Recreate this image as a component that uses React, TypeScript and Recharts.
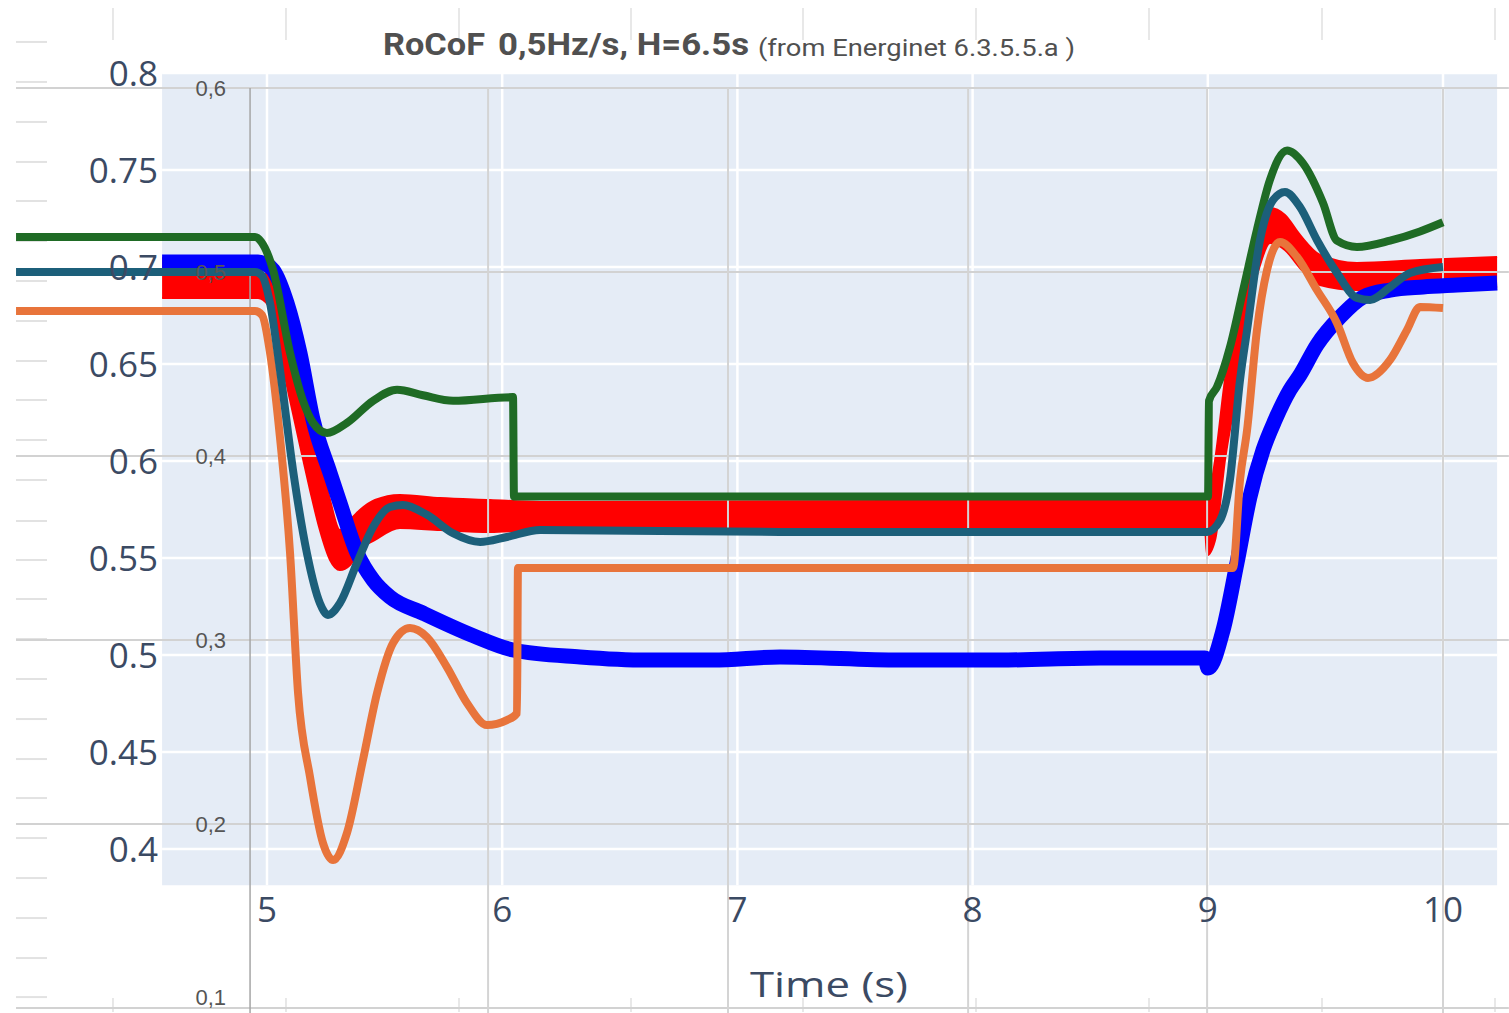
import {
  ComposedChart,
  XAxis,
  YAxis,
  Line,
  Area,
  ReferenceArea,
  ReferenceLine,
} from "recharts";

const W = 1509;
const H = 1013;

// plotly (measured) axes
const timeTicks = [5, 6, 7, 8, 9, 10];
const powerTicks = [0.4, 0.45, 0.5, 0.55, 0.6, 0.65, 0.7, 0.75, 0.8];
// energinet reference picture axes (its time grid drawn on the same time scale)
const refTicks = [0.1, 0.2, 0.3, 0.4, 0.5, 0.6];
const refGridTimes = [4.928, 5.94, 6.96, 7.981, 8.997, 10.0];

// measured active power, red band (fast oscillation min / max)
const measuredRed = [
  { t: 4.554, band: [0.684, 0.7046] },
  { t: 4.962, band: [0.684, 0.7046] },
  { t: 5.004, band: [0.6804, 0.7026] },
  { t: 5.047, band: [0.6598, 0.6933] },
  { t: 5.098, band: [0.6314, 0.6675] },
  { t: 5.14, band: [0.6082, 0.6469] },
  { t: 5.183, band: [0.5851, 0.6263] },
  { t: 5.225, band: [0.5644, 0.6031] },
  { t: 5.268, band: [0.549, 0.5799] },
  { t: 5.31, band: [0.5438, 0.5644] },
  { t: 5.353, band: [0.5464, 0.5696] },
  { t: 5.395, band: [0.5541, 0.5747] },
  { t: 5.459, band: [0.5593, 0.5799] },
  { t: 5.565, band: [0.5655, 0.5825] },
  { t: 5.736, band: [0.5644, 0.5809] },
  { t: 5.948, band: [0.5634, 0.5799] },
  { t: 6.161, band: [0.5644, 0.5789] },
  { t: 8.988, band: [0.5644, 0.5799] },
  { t: 8.997, band: [0.5515, 0.5799] },
  { t: 9.031, band: [0.5593, 0.6005] },
  { t: 9.073, band: [0.6005, 0.6418] },
  { t: 9.116, band: [0.6314, 0.6727] },
  { t: 9.167, band: [0.6727, 0.701] },
  { t: 9.222, band: [0.701, 0.7242] },
  { t: 9.264, band: [0.7124, 0.7304] },
  { t: 9.328, band: [0.7088, 0.7268] },
  { t: 9.392, band: [0.6995, 0.7165] },
  { t: 9.477, band: [0.6907, 0.7062] },
  { t: 9.634, band: [0.6881, 0.7021] },
  { t: 9.902, band: [0.6881, 0.7036] },
  { t: 10.23, band: [0.6897, 0.7052] },
];

// measured, blue (noisy)
const measuredBlue = [
  { t: 4.554, v: 0.7026 },
  { t: 4.962, v: 0.7026 },
  { t: 4.991, v: 0.7015 },
  { t: 5.026, v: 0.6985 },
  { t: 5.085, v: 0.6814 },
  { t: 5.14, v: 0.6557 },
  { t: 5.196, v: 0.6211 },
  { t: 5.268, v: 0.5938 },
  { t: 5.31, v: 0.5784 },
  { t: 5.383, v: 0.5526 },
  { t: 5.451, v: 0.5387 },
  { t: 5.523, v: 0.5299 },
  { t: 5.663, v: 0.5216 },
  { t: 5.876, v: 0.51 },
  { t: 6.046, v: 0.5026 },
  { t: 6.331, v: 0.499 },
  { t: 6.616, v: 0.4974 },
  { t: 6.896, v: 0.4974 },
  { t: 7.181, v: 0.499 },
  { t: 7.691, v: 0.4974 },
  { t: 8.117, v: 0.4974 },
  { t: 8.542, v: 0.4985 },
  { t: 8.988, v: 0.4985 },
  { t: 9.001, v: 0.4933 },
  { t: 9.065, v: 0.5129 },
  { t: 9.124, v: 0.5474 },
  { t: 9.179, v: 0.5814 },
  { t: 9.235, v: 0.6057 },
  { t: 9.286, v: 0.6211 },
  { t: 9.349, v: 0.6366 },
  { t: 9.392, v: 0.6443 },
  { t: 9.464, v: 0.6598 },
  { t: 9.562, v: 0.6742 },
  { t: 9.66, v: 0.6845 },
  { t: 9.775, v: 0.6881 },
  { t: 9.915, v: 0.6897 },
  { t: 10.06, v: 0.6907 },
  { t: 10.23, v: 0.6918 },
];

// Energinet reference curves (values on the 0,1..0,6 scale)
const refGreen = [
  { t: 3.933, v: 0.519 },
  { t: 4.949, v: 0.519 },
  { t: 4.975, v: 0.5165 },
  { t: 5.026, v: 0.501 },
  { t: 5.098, v: 0.456 },
  { t: 5.153, v: 0.43 },
  { t: 5.196, v: 0.418 },
  { t: 5.255, v: 0.4125 },
  { t: 5.34, v: 0.418 },
  { t: 5.451, v: 0.43 },
  { t: 5.553, v: 0.436 },
  { t: 5.663, v: 0.433 },
  { t: 5.791, v: 0.43 },
  { t: 6.046, v: 0.432 },
  { t: 6.05, v: 0.378 },
  { t: 9.001, v: 0.378 },
  { t: 9.005, v: 0.43 },
  { t: 9.039, v: 0.4375 },
  { t: 9.094, v: 0.459 },
  { t: 9.15, v: 0.49 },
  { t: 9.209, v: 0.523 },
  { t: 9.264, v: 0.55 },
  { t: 9.337, v: 0.566 },
  { t: 9.405, v: 0.559 },
  { t: 9.49, v: 0.5375 },
  { t: 9.549, v: 0.517 },
  { t: 9.634, v: 0.5136 },
  { t: 9.775, v: 0.517 },
  { t: 9.902, v: 0.522 },
  { t: 10.0, v: 0.527 },
];

const refTeal = [
  { t: 3.933, v: 0.5 },
  { t: 4.949, v: 0.5 },
  { t: 4.979, v: 0.498 },
  { t: 5.013, v: 0.483 },
  { t: 5.055, v: 0.447 },
  { t: 5.111, v: 0.392 },
  { t: 5.17, v: 0.347 },
  { t: 5.225, v: 0.32 },
  { t: 5.259, v: 0.3136 },
  { t: 5.31, v: 0.32 },
  { t: 5.383, v: 0.342 },
  { t: 5.451, v: 0.3614 },
  { t: 5.523, v: 0.3723 },
  { t: 5.578, v: 0.3734 },
  { t: 5.68, v: 0.368 },
  { t: 5.791, v: 0.358 },
  { t: 5.906, v: 0.3533 },
  { t: 6.02, v: 0.356 },
  { t: 6.161, v: 0.3598 },
  { t: 7.181, v: 0.3587 },
  { t: 8.997, v: 0.3587 },
  { t: 9.052, v: 0.365 },
  { t: 9.094, v: 0.387 },
  { t: 9.137, v: 0.4413 },
  { t: 9.167, v: 0.4685 },
  { t: 9.222, v: 0.5174 },
  { t: 9.277, v: 0.539 },
  { t: 9.328, v: 0.5435 },
  { t: 9.392, v: 0.5353 },
  { t: 9.464, v: 0.5174 },
  { t: 9.549, v: 0.4995 },
  { t: 9.634, v: 0.4859 },
  { t: 9.69, v: 0.4848 },
  { t: 9.775, v: 0.4918 },
  { t: 9.86, v: 0.4995 },
  { t: 10.0, v: 0.5027 },
];

const refOrange = [
  { t: 3.933, v: 0.4788 },
  { t: 4.949, v: 0.4788 },
  { t: 4.979, v: 0.4766 },
  { t: 5.013, v: 0.456 },
  { t: 5.055, v: 0.4103 },
  { t: 5.098, v: 0.3473 },
  { t: 5.132, v: 0.2712 },
  { t: 5.183, v: 0.2255 },
  { t: 5.238, v: 0.1897 },
  { t: 5.281, v: 0.1804 },
  { t: 5.34, v: 0.1951 },
  { t: 5.408, v: 0.2348 },
  { t: 5.468, v: 0.2712 },
  { t: 5.536, v: 0.2984 },
  { t: 5.608, v: 0.3065 },
  { t: 5.68, v: 0.3016 },
  { t: 5.765, v: 0.2853 },
  { t: 5.85, v: 0.2658 },
  { t: 5.935, v: 0.2538 },
  { t: 6.02, v: 0.2565 },
  { t: 6.063, v: 0.2603 },
  { t: 6.067, v: 0.3391 },
  { t: 9.107, v: 0.3391 },
  { t: 9.137, v: 0.387 },
  { t: 9.167, v: 0.4141 },
  { t: 9.209, v: 0.4685 },
  { t: 9.252, v: 0.5011 },
  { t: 9.307, v: 0.5163 },
  { t: 9.379, v: 0.5082 },
  { t: 9.464, v: 0.4902 },
  { t: 9.549, v: 0.4723 },
  { t: 9.617, v: 0.4505 },
  { t: 9.681, v: 0.4424 },
  { t: 9.775, v: 0.4522 },
  { t: 9.847, v: 0.4685 },
  { t: 9.902, v: 0.481 },
  { t: 10.0, v: 0.4804 },
];

// page ruler marks behind the screenshot (page pixels)
const rulerLeftY = [42, 82, 122, 162, 201, 241, 281, 321, 361, 400, 440, 480, 521, 560, 599, 639, 679, 719, 759, 798, 838, 878, 918, 958, 997];
const rulerTopX = [113, 286, 459, 631, 803, 976, 1149, 1322, 1495];

const tickColor = "#3b4a63";
const plotBox = { t0: 4.554, t1: 10.23, v0: 0.3814, v1: 0.8 };
const refBox = { t0: 3.933, t1: 10.28, top: 0.6, bottom: 0.0973 };

// page pixel -> chart units, only for the ruler decorations
const pxT = (px: number) => 5 + (px - 267) / 235.2;
const pyV = (py: number) => 0.8 - (py - 73) / 1940;

const TimeTick = (p: any) => (
  <text x={p.x} y={922} textAnchor="middle" fontFamily="Open Sans" fontSize={35} fill={tickColor}>
    {p.payload.value}
  </text>
);

const PowerTick = (p: any) => (
  <text x={158} y={p.y + 13} textAnchor="end" fontFamily="Open Sans" fontSize={35} fill={tickColor}>
    {String(p.payload.value)}
  </text>
);

// bottom label sits on the page edge, keep it just inside
const RefTick = (p: any) => (
  <text x={226} y={Math.min(p.y + 8, 1005)} textAnchor="end" fontFamily="Liberation Sans" fontSize={22} fill="#555">
    {String(p.payload.value).replace(".", ",")}
  </text>
);

export default function App() {
  return (
    <div style={{ position: "absolute", left: 0, top: 0, width: W, height: H, background: "#fff" }}>
      <ComposedChart width={W} height={H} margin={{ top: 0, right: -1, bottom: -1, left: -1 }}>
        <XAxis
          xAxisId="t"
          type="number"
          dataKey="t"
          domain={[3.8648, 10.2806]}
          allowDataOverflow
          ticks={timeTicks}
          interval={0}
          height={1}
          axisLine={false}
          tickLine={false}
          tick={TimeTick}
        />
        <YAxis
          yAxisId="v"
          type="number"
          domain={[0.3155, 0.8376]}
          allowDataOverflow
          ticks={powerTicks}
          interval={0}
          width={1}
          axisLine={false}
          tickLine={false}
          tick={PowerTick}
        />
        <YAxis
          yAxisId="ref"
          orientation="right"
          type="number"
          domain={[0.0973, 0.6478]}
          allowDataOverflow
          ticks={refTicks}
          interval={0}
          width={1}
          axisLine={false}
          tickLine={false}
          tick={RefTick}
        />

        {/* ruler marks */}
        {rulerLeftY.map((y) => (
          <ReferenceLine
            key={`rl${y}`}
            xAxisId="t"
            yAxisId="v"
            segment={[{ x: pxT(16), y: pyV(y) }, { x: pxT(47), y: pyV(y) }]}
            stroke="#e2e2e2"
            strokeWidth={2}
            zIndex={-60}
          />
        ))}
        {rulerTopX.map((x) => (
          <ReferenceLine
            key={`rt${x}`}
            xAxisId="t"
            yAxisId="v"
            segment={[{ x: pxT(x), y: pyV(8) }, { x: pxT(x), y: pyV(40) }]}
            stroke="#e0e0e0"
            strokeWidth={1.5}
            zIndex={-60}
          />
        ))}
        {rulerTopX.map((x) => (
          <ReferenceLine
            key={`rb${x}`}
            xAxisId="t"
            yAxisId="v"
            segment={[{ x: pxT(x), y: pyV(998) }, { x: pxT(x), y: pyV(1012) }]}
            stroke="#e0e0e0"
            strokeWidth={1.5}
            zIndex={-60}
          />
        ))}

        {/* plotly background and white grid */}
        <ReferenceArea
          xAxisId="t"
          yAxisId="v"
          x1={plotBox.t0}
          x2={plotBox.t1}
          y1={plotBox.v0}
          y2={plotBox.v1}
          fill="#e5ecf6"
          fillOpacity={1}
          stroke="none"
          zIndex={-100}
        />
        {powerTicks.map((v) => (
          <ReferenceLine
            key={`gh${v}`}
            xAxisId="t"
            yAxisId="v"
            segment={[{ x: plotBox.t0, y: v }, { x: plotBox.t1, y: v }]}
            stroke="#ffffff"
            strokeWidth={2.5}
            zIndex={-50}
          />
        ))}
        {timeTicks.map((t) => (
          <ReferenceLine
            key={`gv${t}`}
            xAxisId="t"
            yAxisId="v"
            segment={[{ x: t, y: plotBox.v0 }, { x: t, y: plotBox.v1 }]}
            stroke="#ffffff"
            strokeWidth={2.5}
            zIndex={-50}
          />
        ))}

        {/* reference picture grid */}
        {refTicks.map((v) => (
          <ReferenceLine
            key={`rh${v}`}
            xAxisId="t"
            yAxisId="ref"
            segment={[{ x: refBox.t0, y: v }, { x: refBox.t1, y: v }]}
            stroke="#d2d2d2"
            strokeWidth={2}
          />
        ))}
        {refGridTimes.map((t, i) => (
          <ReferenceLine
            key={`rv${t}`}
            xAxisId="t"
            yAxisId="ref"
            segment={[{ x: t, y: refBox.top }, { x: t, y: refBox.bottom }]}
            stroke={i === 0 ? "#a5a5a5" : "#d4d4d4"}
            strokeWidth={i === 0 ? 1.5 : 2}
          />
        ))}

        <Area
          data={measuredRed}
          xAxisId="t"
          yAxisId="v"
          dataKey="band"
          type="monotone"
          stroke="#ff0000"
          strokeWidth={2}
          fill="#ff0000"
          fillOpacity={1}
          dot={false}
          activeDot={false}
          isAnimationActive={false}
        />
        <Line
          data={measuredBlue}
          xAxisId="t"
          yAxisId="v"
          dataKey="v"
          type="monotone"
          stroke="#0000ff"
          strokeWidth={15}
          dot={false}
          activeDot={false}
          isAnimationActive={false}
        />
        <Line
          data={refGreen}
          xAxisId="t"
          yAxisId="ref"
          dataKey="v"
          type="monotone"
          stroke="#1f6b25"
          strokeWidth={8}
          dot={false}
          activeDot={false}
          isAnimationActive={false}
        />
        <Line
          data={refOrange}
          xAxisId="t"
          yAxisId="ref"
          dataKey="v"
          type="monotone"
          stroke="#e8743b"
          strokeWidth={8}
          dot={false}
          activeDot={false}
          isAnimationActive={false}
        />
        <Line
          data={refTeal}
          xAxisId="t"
          yAxisId="ref"
          dataKey="v"
          type="monotone"
          stroke="#1c5f7a"
          strokeWidth={8}
          dot={false}
          activeDot={false}
          isAnimationActive={false}
        />
      </ComposedChart>

      <svg width={W} height={H} style={{ position: "absolute", left: 0, top: 0, pointerEvents: "none" }}>
        <text x={383} y={55} fontFamily="Roboto" fontWeight="bold" fontSize={31} fill="#505050" textLength={102} lengthAdjust="spacingAndGlyphs">
          RoCoF
        </text>
        <text x={498} y={55} fontFamily="Roboto" fontWeight="bold" fontSize={31} fill="#505050" textLength={251} lengthAdjust="spacingAndGlyphs">
          0,5Hz/s, H=6.5s
        </text>
        <text x={758} y={56} fontFamily="Roboto" fontSize={24} fill="#505050" textLength={317} lengthAdjust="spacingAndGlyphs">
          (from Energinet 6.3.5.5.a )
        </text>
        <text x={750} y={997} fontFamily="Open Sans" fontSize={35} fill={tickColor} textLength={158} lengthAdjust="spacingAndGlyphs">
          Time (s)
        </text>
      </svg>
    </div>
  );
}
